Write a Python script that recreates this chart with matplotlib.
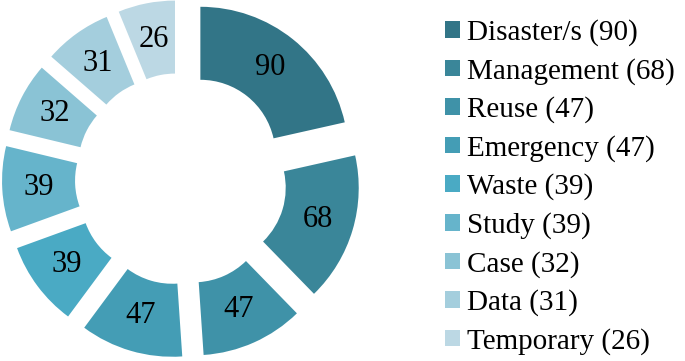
import matplotlib.pyplot as plt
from matplotlib.patches import Patch

labels = ['Disaster/s', 'Management', 'Reuse', 'Emergency', 'Waste',
          'Study', 'Case', 'Data', 'Temporary']
counts = [90, 68, 47, 47, 39, 39, 32, 31, 26]
colors = ['#327587', '#3a8699', '#3f92a8', '#449db5', '#4aaac4',
          '#66b4cb', '#8ac3d5', '#a4cedd', '#bcd8e4']

fig = plt.figure(figsize=(6.85, 3.61), dpi=100)
fig.patch.set_facecolor('white')
ax = fig.add_axes([0, 0, 1, 1])

R = 148
wedges, texts, autotexts = ax.pie(
    counts, colors=colors, startangle=90, counterclock=False,
    center=(181, 182), radius=R, explode=[31] * len(counts),
    wedgeprops=dict(width=73, linewidth=0),
    autopct=lambda p: '%d' % round(p * sum(counts) / 100),
    pctdistance=0.753, frame=True,
    textprops=dict(fontsize=22, family='Liberation Serif', color='black'))
ax.set_xlim(0, 685)
ax.set_ylim(0, 361)
ax.set_axis_off()

handles = [Patch(facecolor=c, edgecolor='none') for c in colors]
leg_labels = ['%s (%d)' % (l, v) for l, v in zip(labels, counts)]
ax.legend(handles, leg_labels, loc='upper left', bbox_to_anchor=(445 / 685, 1 - 19 / 361),
          frameon=False, prop=dict(family='Liberation Serif', size=21),
          handlelength=0.5, handleheight=0.5, handletextpad=0.27,
          labelspacing=0.4, borderpad=0, borderaxespad=0)

plt.savefig('out.png', dpi=100)
